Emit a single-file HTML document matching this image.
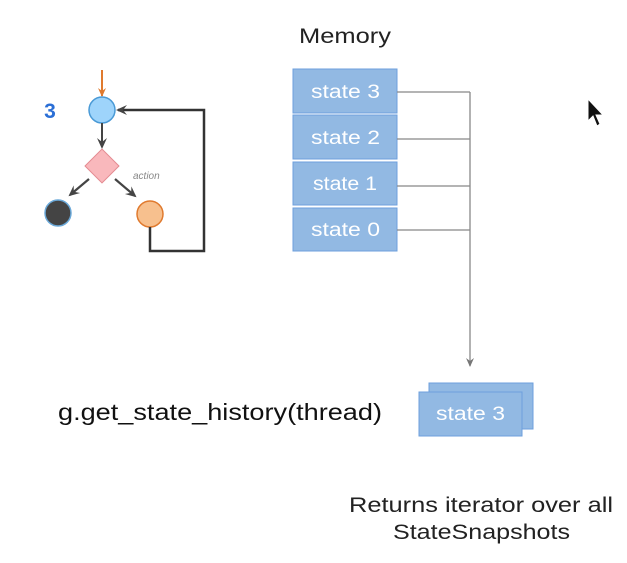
<!DOCTYPE html>
<html><head><meta charset="utf-8"><style>
html,body{margin:0;padding:0;background:#fff;width:627px;height:563px;overflow:hidden}
svg{display:block;font-family:"Liberation Sans",sans-serif}
</style></head><body>
<svg width="627" height="563" viewBox="0 0 627 563">
<defs>
<marker id="ah" markerWidth="12" markerHeight="12" refX="9" refY="6" orient="auto" markerUnits="userSpaceOnUse"><path d="M0,1 L11,6 L0,11 L4,6 Z" fill="#444"/></marker>
<marker id="ag" markerWidth="10" markerHeight="10" refX="8" refY="5" orient="auto" markerUnits="userSpaceOnUse"><path d="M0,1 L9,5 L0,9 L3,5 Z" fill="#777"/></marker>
<marker id="ao" markerWidth="10" markerHeight="10" refX="8" refY="5" orient="auto" markerUnits="userSpaceOnUse"><path d="M0,1 L9,5 L0,9 L3,5 Z" fill="#e07a2e"/></marker>
</defs>
<g>
<text x="50" y="118" font-size="21" font-weight="bold" fill="#2b6fd6" text-anchor="middle">3</text>
<line x1="102" y1="70" x2="102" y2="96" stroke="#e07a2e" stroke-width="2" marker-end="url(#ao)"/>
<circle cx="102" cy="110" r="13" fill="#9ed4fb" stroke="#4a9ad6" stroke-width="1.5"/>
<line x1="102" y1="123" x2="102" y2="147" stroke="#444" stroke-width="2" marker-end="url(#ah)"/>
<rect x="90" y="154" width="24" height="24" fill="#f9b8bc" stroke="#e48a90" stroke-width="1" transform="rotate(45 102 166)"/>
<line x1="89" y1="179" x2="70" y2="195" stroke="#444" stroke-width="2.2" marker-end="url(#ah)"/>
<line x1="115" y1="179" x2="135" y2="196" stroke="#444" stroke-width="2.2" marker-end="url(#ah)"/>
<text x="133" y="179" font-size="10" font-style="italic" fill="#888">action</text>
<circle cx="58" cy="213" r="13" fill="#444" stroke="#6aa8d8" stroke-width="1.5"/>
<circle cx="150" cy="214" r="13" fill="#f7c08e" stroke="#e07a2e" stroke-width="1.5"/>
<polyline points="150,227 150,251 204,251 204,110 118,110" fill="none" stroke="#333" stroke-width="2.5" marker-end="url(#ah)"/>
</g>
<text x="299" y="43" font-size="21" fill="#222" textLength="92" lengthAdjust="spacingAndGlyphs">Memory</text>
<g font-size="19" fill="#fff">
<rect x="293" y="69" width="104" height="44" fill="#92b9e3" stroke="#6d9fdc"/>
<text x="311" y="98" textLength="69" lengthAdjust="spacingAndGlyphs">state 3</text>
<rect x="293" y="115" width="104" height="44" fill="#92b9e3" stroke="#6d9fdc"/>
<text x="311" y="144" textLength="69" lengthAdjust="spacingAndGlyphs">state 2</text>
<rect x="293" y="162" width="104" height="43" fill="#92b9e3" stroke="#6d9fdc"/>
<text x="313" y="190" textLength="64" lengthAdjust="spacingAndGlyphs">state 1</text>
<rect x="293" y="208" width="104" height="43" fill="#92b9e3" stroke="#6d9fdc"/>
<text x="311" y="236" textLength="69" lengthAdjust="spacingAndGlyphs">state 0</text>
</g>
<g stroke="#888" stroke-width="1.3" fill="none">
<line x1="397" y1="92" x2="470" y2="92"/>
<line x1="397" y1="139" x2="470" y2="139"/>
<line x1="397" y1="186" x2="470" y2="186"/>
<line x1="397" y1="230" x2="470" y2="230"/>
<line x1="470" y1="92" x2="470" y2="366" marker-end="url(#ag)"/>
</g>
<text x="58" y="420" font-size="23" fill="#111" textLength="324" lengthAdjust="spacingAndGlyphs">g.get_state_history(thread)</text>
<g>
<rect x="429" y="383" width="104" height="46" fill="#92b9e3" stroke="#6d9fdc"/>
<rect x="419" y="392" width="103" height="44" fill="#92b9e3" stroke="#6d9fdc"/>
<text x="436" y="420" font-size="19" fill="#fff" textLength="69" lengthAdjust="spacingAndGlyphs">state 3</text>
</g>
<text x="349" y="512" font-size="21" fill="#222" textLength="264" lengthAdjust="spacingAndGlyphs">Returns iterator over all</text>
<text x="393" y="539" font-size="21" fill="#222" textLength="177" lengthAdjust="spacingAndGlyphs">StateSnapshots</text>
<path d="M588,99 L588,121 L593,116 L597,126 L600,124 L596,115 L603,115 Z" fill="#111" stroke="#fff" stroke-width="1"/>
</svg>
</body></html>
